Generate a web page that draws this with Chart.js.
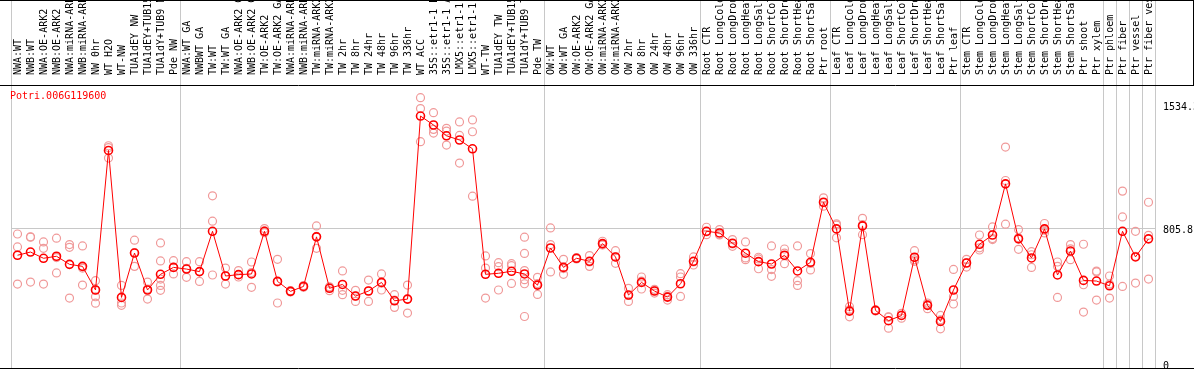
<!DOCTYPE html>
<html>
<head>
<meta charset="utf-8">
<script src="https://cdn.jsdelivr.net/npm/chart.js@4.4.0/dist/chart.umd.min.js"></script>
<style>
  html, body { margin: 0; padding: 0; background: #fff; }
  #wrap { width: 1194px; height: 370px; }
</style>
</head>
<body>
<div id="wrap"><canvas id="chart" width="1194" height="370"></canvas></div>
<script>
const geneName = 'Potri.006G119600';

const categories = [
  'NWA:WT', 'NWB:WT', 'NWA:OE-ARK2', 'NWB:OE-ARK2', 'NWA:miRNA-ARK2', 'NWB:miRNA-ARK2',
  'NW 0hr', 'WT H2O', 'WT-NW', 'TUA1dEY NW', 'TUA1dEY+TUB15', 'TUA1dY+TUB9 NW', 'Pde NW',
  'NWA:WT GA', 'NWBWT GA', 'TW:WT', 'TW:WT GA', 'NWA:OE-ARK2 GA', 'NWB:OE-ARK2 GA',
  'TW:OE-ARK2', 'TW:OE-ARK2 GA', 'NWA:miRNA-ARK2', 'NWB:miRNA-ARK2', 'TW:miRNA-ARK2',
  'TW:miRNA-ARK2', 'TW 2hr', 'TW 8hr', 'TW 24hr', 'TW 48hr', 'TW 96hr', 'TW 336hr',
  'WT ACC', '35S::etr1-1 H2O', '35S::etr1-1 ACC', 'LMX5::etr1-1 H2O', 'LMX5::etr1-1 ACC',
  'WT-TW', 'TUA1dEY TW', 'TUA1dEY+TUB15', 'TUA1dY+TUB9 TW', 'Pde TW',
  'OW:WT', 'OW:WT GA', 'OW:OE-ARK2', 'OW:OE-ARK2 GA', 'OW:miRNA-ARK2', 'OW:miRNA-ARK2',
  'OW 2hr', 'OW 8hr', 'OW 24hr', 'OW 48hr', 'OW 96hr', 'OW 336hr',
  'Root CTR', 'Root LongCold', 'Root LongDrought', 'Root LongHeat', 'Root LongSalt',
  'Root ShortCold', 'Root ShortDrought', 'Root ShortHeat', 'Root ShortSalt', 'Ptr root',
  'Leaf CTR', 'Leaf LongCold', 'Leaf LongDrought', 'Leaf LongHeat', 'Leaf LongSalt',
  'Leaf ShortCold', 'Leaf ShortDrought', 'Leaf ShortHeat', 'Leaf ShortSalt', 'Ptr leaf',
  'Stem CTR', 'Stem LongCold', 'Stem LongDrought', 'Stem LongHeat', 'Stem LongSalt',
  'Stem ShortCold', 'Stem ShortDrought', 'Stem ShortHeat', 'Stem ShortSalt',
  'Ptr shoot', 'Ptr xylem', 'Ptr phloem', 'Ptr fiber', 'Ptr vessel', 'Ptr fiber vessel'
];

const meanValues = [
  646, 665, 628, 640, 592, 580, 440, 1267, 396, 659, 440, 533, 574,
  564, 549, 788, 523, 531, 535, 788, 491, 432, 461, 755, 450, 473, 404, 434, 485, 376, 386,
  1471, 1418, 1354, 1329, 1277, 533, 539, 551, 535, 469,
  689, 574, 628, 610, 715, 636, 410, 485, 434, 398, 477, 610,
  788, 778, 717, 658, 608, 594, 646, 553, 604, 960,
  802, 315, 820, 319, 258, 289, 634, 349, 254, 440,
  600, 711, 766, 1069, 743, 630, 802, 529, 671, 497, 493, 465, 788, 636, 743
];

const replicates = [
  [772, 695, 475], [755, 753, 487], [725, 687, 475], [747, 632, 541], [709, 693, 392],
  [701, 570, 469], [495, 442, 400, 362], [1295, 1284, 1222], [467, 363, 349], [735, 662, 580],
  [487, 446, 386], [719, 612, 505, 467, 438], [614, 574, 535],
  [608, 568, 515], [608, 549, 491], [998, 848, 529], [570, 523, 475], [555, 531, 517],
  [606, 543, 456], [804, 790, 780], [622, 488, 363], [436, 432, 428], [466, 461, 456],
  [820, 758, 687], [459, 455, 436], [553, 438, 412], [438, 404, 372], [499, 434, 372],
  [535, 480, 440], [412, 380, 337], [469, 386, 303],
  [1580, 1515, 1319], [1491, 1392, 1370], [1398, 1382, 1299], [1436, 1356, 1192],
  [1448, 1378, 996], [642, 570, 392], [602, 578, 440], [596, 584, 479],
  [753, 657, 555, 501, 477, 283], [515, 478, 414],
  [808, 709, 547], [622, 567, 533], [632, 628, 624], [644, 606, 580], [729, 709, 707],
  [673, 636, 598], [450, 408, 372], [517, 492, 446], [444, 436, 422], [412, 402, 380],
  [537, 517, 402], [636, 606, 588],
  [812, 785, 768], [798, 770, 766], [739, 713, 699], [725, 630, 620], [634, 624, 566],
  [701, 561, 521], [683, 659, 596], [701, 495, 467], [656, 597, 559], [986, 957, 937],
  [832, 825, 749], [341, 323, 281], [865, 827, 768], [322, 319, 316], [281, 279, 214],
  [302, 291, 273], [673, 619, 610], [363, 355, 329], [289, 263, 210], [562, 402, 357],
  [622, 602, 576], [766, 690, 677], [814, 745, 739], [1287, 1089, 830], [798, 750, 681],
  [667, 649, 574], [834, 794, 778], [606, 580, 396], [709, 684, 620], [711, 471, 309],
  [552, 547, 380], [523, 475, 392], [1026, 873, 461], [788, 640, 481], [960, 764, 505]
];

const yTickValues = [0, 805.8, 1534.3];
const groupEdges = [0, 13, 41, 53, 63, 73, 84, 85, 86, 87, 88];

Chart.defaults.font.family = "'DejaVu Sans Mono', monospace";
Chart.defaults.font.size = 10;
Chart.defaults.color = '#000';

// replicate circles, one dataset per replicate slot
const maxReps = Math.max(...replicates.map(r => r.length));
const repSets = [];
for (let k = 0; k < maxReps; k++) {
  repSets.push({
    label: 'rep ' + (k + 1),
    data: replicates.map(r => (r[k] === undefined ? null : r[k])),
    showLine: false,
    pointRadius: 4,
    pointHoverRadius: 4,
    pointBorderWidth: 1.2,
    pointBorderColor: '#f09a9a',
    pointBackgroundColor: 'rgba(0,0,0,0)'
  });
}

// group separators (also through the label header), frame lines and the gene name
const framePlugin = {
  id: 'frame',
  beforeDatasetsDraw(chart) {
    const { ctx, chartArea, scales } = chart;
    const W = chart.width;
    const H = chart.height;
    ctx.save();
    ctx.lineWidth = 1;
    ctx.strokeStyle = '#c8c8c8';
    groupEdges.forEach(b => {
      const px = Math.round(scales.x.getPixelForValue(b - 0.5)) + 0.5;
      ctx.beginPath();
      ctx.moveTo(px, 0);
      ctx.lineTo(px, H - 2);
      ctx.stroke();
    });
    ctx.strokeStyle = '#000';
    ctx.beginPath();
    ctx.moveTo(0, 0.5); ctx.lineTo(W, 0.5);
    ctx.moveTo(0, chartArea.top + 0.5); ctx.lineTo(W, chartArea.top + 0.5);
    ctx.moveTo(W - 0.5, 0); ctx.lineTo(W - 0.5, chartArea.top);
    ctx.moveTo(0, H - 1.5); ctx.lineTo(W, H - 1.5);
    ctx.stroke();
    ctx.fillStyle = '#ff0000';
    ctx.font = "10px 'DejaVu Sans Mono'";
    ctx.textBaseline = 'middle';
    ctx.textAlign = 'left';
    ctx.fillText(geneName, chartArea.left - 1, chartArea.top + 11);
    ctx.restore();
  }
};

new Chart(document.getElementById('chart').getContext('2d'), {
  type: 'line',
  data: {
    labels: categories,
    datasets: [
      {
        label: 'mean',
        data: meanValues,
        borderColor: '#ff0000',
        borderWidth: 1,
        tension: 0,
        pointRadius: 4,
        pointHoverRadius: 4,
        pointBorderWidth: 1.6,
        pointBorderColor: '#ff0000',
        pointBackgroundColor: 'rgba(0,0,0,0)'
      },
      ...repSets
    ]
  },
  options: {
    responsive: false,
    animation: false,
    layout: { padding: { left: 11, right: 0, top: 0, bottom: 1 } },
    plugins: {
      legend: { display: false },
      tooltip: { enabled: false }
    },
    scales: {
      x: {
        type: 'category',
        position: 'top',
        offset: true,
        grid: { display: false },
        border: { display: false },
        ticks: {
          autoSkip: false,
          minRotation: 90,
          maxRotation: 90,
          padding: 2,
          labelOffset: 13,
          color: '#000'
        },
        afterFit(scale) {
          scale.height = 85;
          scale.paddingLeft = 0;
          scale.paddingRight = 0;
        }
      },
      y: {
        position: 'right',
        min: -1,
        max: 1655,
        afterBuildTicks(axis) { axis.ticks = yTickValues.map(v => ({ value: v })); },
        afterFit(axis) {
          axis.width = 39;
          axis.paddingTop = 0;
          axis.paddingBottom = 0;
        },
        grid: {
          drawTicks: false,
          color: c => (c.tick && c.tick.value === 805.8 ? '#c8c8c8' : 'rgba(0,0,0,0)')
        },
        border: { display: false },
        ticks: {
          padding: 8,
          labelOffset: 2,
          color: '#000',
          callback: v => String(v)
        }
      }
    }
  },
  plugins: [framePlugin]
});
</script>
</body>
</html>
